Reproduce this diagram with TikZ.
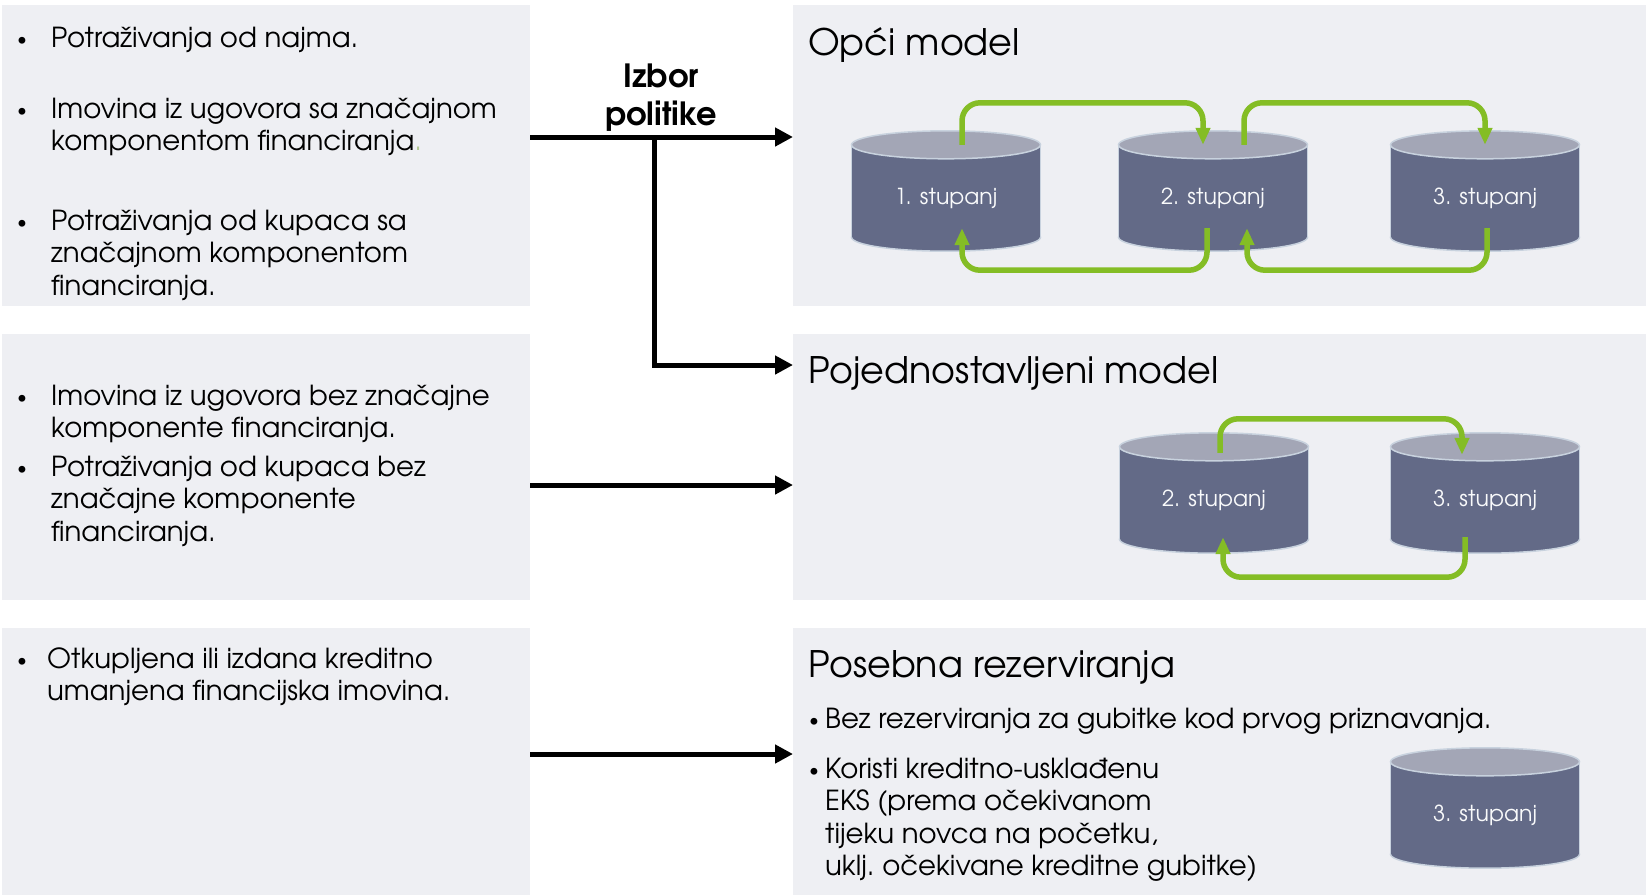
\documentclass[tikz,border=0pt]{standalone}
\usepackage{fontspec}
\setmainfont{TeX Gyre Adventor}
\usetikzlibrary{arrows.meta}

\definecolor{panelgray}{RGB}{238,239,243}
\definecolor{stupbodyc}{RGB}{99,106,135}
\definecolor{stuptopc}{RGB}{163,166,182}
\definecolor{stupedgec}{RGB}{200,210,222}
\definecolor{stupgreen}{RGB}{132,189,37}

\tikzset{
  panel/.style={fill=panelgray, draw=none, anchor=north west, inner sep=0pt},
  bodytext/.style={anchor=base west, inner sep=0pt, font=\fontsize{27.6}{32.5}\selectfont},
  dot/.style={anchor=base west, inner sep=0pt, font=\fontsize{19}{20}\selectfont},
  titletext/.style={anchor=base west, inner sep=0pt, font=\fontsize{36.5}{40}\selectfont},
  stupbox/.style={minimum width=189, minimum height=92, inner sep=0pt, draw=none},
  stupbody/.style={fill=stupbodyc, draw=stupedgec, line width=1.5pt},
  stuptop/.style={fill=stuptopc, draw=stupedgec, line width=1.5pt},
  stupedge/.style={draw=stupedgec, line width=1.5pt},
  stuplabel/.style={text=white!94!stuptopc, font=\fontsize{22}{26}\selectfont},
  greenarrow/.style={draw=stupgreen, line width=5.5pt, rounded corners=18pt,
    -{Triangle[length=17pt,width=14pt]}},
  bigarrow/.style={draw=black, line width=5pt, -{Triangle[length=18pt,width=18pt]}}
}

% lines of one bullet item
\newcommand{\lines}[1]{\begin{tabular}[t]{@{}l@{}}#1\end{tabular}}

% cylinder: name, position, label
\newcommand{\stupanj}[3]{%
  \node[stupbox] (#1) at (#2) {};
  \filldraw[stupbody] (#1.south) ellipse [x radius=94.5, y radius=14];
  \fill[stupbodyc] (#1.north west) rectangle (#1.south east);
  \draw[stupedge] (#1.north west) -- (#1.south west) (#1.north east) -- (#1.south east);
  \filldraw[stuptop] (#1.north) ellipse [x radius=94.5, y radius=14];
  \node[stuplabel] at ([yshift=-7pt]#1.center) {#3};
}

\begin{document}
\begin{tikzpicture}[x=1pt, y=-1pt]
    \useasboundingbox (0,0) rectangle (1646,895);

    % panels
    \node[panel, minimum width=528, minimum height=301] (L1) at (2,5) {};
    \node[panel, minimum width=528, minimum height=266] (L2) at (2,334) {};
    \node[panel, minimum width=528, minimum height=267] (L3) at (2,628) {};
    \node[panel, minimum width=853, minimum height=301] (R1) at (793,5) {};
    \node[panel, minimum width=853, minimum height=266] (R2) at (793,334) {};
    \node[panel, minimum width=853, minimum height=267] (R3) at (793,628) {};

    % left texts
    \node[dot] (b1) at (17,45) {•};
    \node[bodytext] (i1) at (51,47) {\lines{Potraživanja od najma.}};
    \node[dot] (b2) at (17,116) {•};
    \node[bodytext] (i2) at (51,118) {\lines{Imovina iz ugovora sa značajnom\\komponentom financiranja{\color{stupgreen!45!panelgray!80!gray}.}}};
    \node[dot] (b3) at (17,228) {•};
    \node[bodytext] (i3) at (51,230) {\lines{Potraživanja od kupaca sa\\značajnom komponentom\\financiranja.}};
    \node[dot] (b4) at (17,403) {•};
    \node[bodytext] (i4) at (51,405) {\lines{Imovina iz ugovora bez značajne\\komponente financiranja.}};
    \node[dot] (b5) at (17,474) {•};
    \node[bodytext] (i5) at (51,476) {\lines{Potraživanja od kupaca bez\\značajne komponente\\financiranja.}};
    \node[dot] (b6) at (17,666) {•};
    \node[bodytext] (i6) at (47,668) {\lines{Otkupljena ili izdana kreditno\\umanjena financijska imovina.}};

    % right titles and texts
    \node[titletext] (t1) at (808,55) {Opći model};
    \node[titletext] (t2) at (808,383) {Pojednostavljeni model};
    \node[titletext] (t3) at (808,677) {Posebna rezerviranja};
    \node[dot] (b7) at (809,726) {•};
    \node[bodytext] (i7) at (825,728) {Bez rezerviranja za gubitke kod prvog priznavanja.};
    \node[dot] (b8) at (809,776) {•};
    \node[bodytext] (i8) at (825,778) {\lines{Koristi kreditno-usklađenu\\EKS (prema očekivanom\\tijeku novca na početku,\\uklj.\ očekivane kreditne gubitke)}};

    % policy choice
    \node[anchor=base, inner sep=0pt, font=\fontsize{32}{38}\selectfont\bfseries] (izbor) at (661,87) {\begin{tabular}[t]{@{}c@{}}Izbor\\politike\end{tabular}};
    \coordinate (split) at (657,137);
    \coordinate (toR2) at (793,365);
    \draw[bigarrow] (L1.east |- split) -- (R1.west |- split);
    \draw[bigarrow] ([xshift=-2.5pt]split) |- (toR2);
    \draw[bigarrow] (L2.east |- 0,485) -- (R2.west |- 0,485);
    \draw[bigarrow] (L3.east |- 0,754) -- (R3.west |- 0,754);

    % cylinders
    \stupanj{c1}{946,191}{1. stupanj}
    \stupanj{c2}{1213,191}{2. stupanj}
    \stupanj{c3}{1485,191}{3. stupanj}
    \stupanj{d2}{1214,493}{2. stupanj}
    \stupanj{d3}{1485,493}{3. stupanj}
    \stupanj{e3}{1485,808}{3. stupanj}

    % transitions
    \draw[greenarrow] ([xshift=16pt]c1.north) -- ++(0,-42) -| ([xshift=-10pt]c2.north);
    \draw[greenarrow] ([xshift=31pt]c2.north) -- ++(0,-42) -| (c3.north);
    \draw[greenarrow] ([xshift=-6pt,yshift=9pt]c2.south) -- ++(0,42) -| ([xshift=16pt,yshift=9pt]c1.south);
    \draw[greenarrow] ([xshift=2pt,yshift=9pt]c3.south) -- ++(0,42) -| ([xshift=34pt,yshift=9pt]c2.south);
    \draw[greenarrow] ([xshift=6pt,yshift=-6pt]d2.north) -- ++(0,-34) -| ([xshift=-23pt,yshift=-8pt]d3.north);
    \draw[greenarrow] ([xshift=-20pt,yshift=2pt]d3.south) -- ++(0,40) -| ([xshift=9pt,yshift=2pt]d2.south);
\end{tikzpicture}
\end{document}
